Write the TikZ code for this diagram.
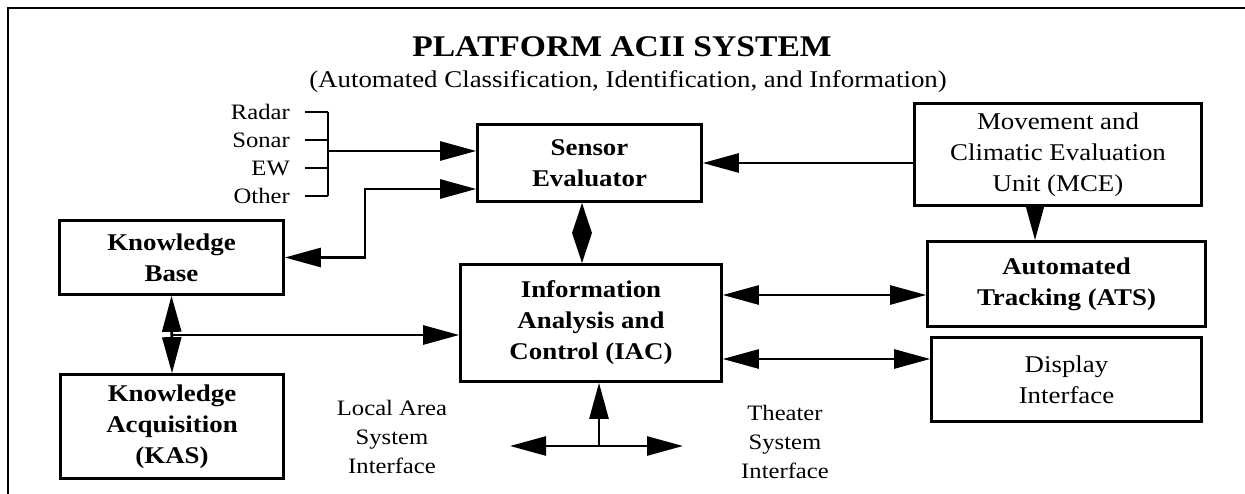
\documentclass[tikz,border=0pt]{standalone}
\usepackage{fontspec}
\setmainfont{Liberation Serif}[FakeStretch=1.12]
\usetikzlibrary{arrows.meta,calc}
\begin{document}
\begin{tikzpicture}[x=1pt,y=-1pt,
  conn/.style={line width=2.6pt},
  blk/.style={draw, line width=2.6pt, align=center, inner sep=0pt, font=\fontsize{24}{31}\selectfont\bfseries},
  rblk/.style={blk, font=\fontsize{24}{31}\selectfont},
  lbl/.style={align=center, inner sep=0pt, font=\fontsize{22}{29}\selectfont},
  arr/.style={conn, -{Triangle[length=36pt,width=19pt]}},
  darr/.style={conn, {Triangle[length=36pt,width=19pt]}-{Triangle[length=36pt,width=19pt]}},
  sdarr/.style={conn, {Triangle[length=30pt,width=19pt]}-{Triangle[length=30pt,width=19pt]}}
]
\useasboundingbox (0,0) rectangle (1245,494);
% frame
\draw[line width=2.5pt] (8,494) -- (8,8) -- (1245,8);

% titles
\node[font=\fontsize{30}{36}\selectfont\bfseries, anchor=base, inner sep=0pt] (title) at (622,57) {PLATFORM ACII SYSTEM};
\node[font=\fontsize{24}{29}\selectfont, anchor=base, inner sep=0pt] (sub) at (628,88) {(Automated Classification, Identification, and Information)};

% boxes
\node[blk, minimum width=224pt, minimum height=77pt] (se) at (589.5,163) {Sensor\\Evaluator};
\node[blk, minimum width=261pt, minimum height=117pt] (iac) at (591,323) {Information\\Analysis and\\Control (IAC)};
\node[blk, minimum width=224pt, minimum height=74pt] (kb) at (171.5,257.5) {Knowledge\\Base};
\node[blk, minimum width=223pt, minimum height=104pt] (kas) at (172,426.5) {Knowledge\\Acquisition\\(KAS)};
\node[rblk, minimum width=287pt, minimum height=102pt] (mce) at (1058,154.5) {Movement and\\Climatic Evaluation\\Unit (MCE)};
\node[blk, minimum width=278pt, minimum height=85pt] (ats) at (1066.5,284) {Automated\\Tracking (ATS)};
\node[rblk, minimum width=270pt, minimum height=84pt] (disp) at (1066.5,379.5) {Display\\Interface};

% sensor inputs
\node[lbl, anchor=east] (radar) at (290,112) {Radar};
\node[lbl, anchor=east] (sonar) at (290,140) {Sonar};
\node[lbl, anchor=east] (ew) at (290,168) {EW};
\node[lbl, anchor=east] (other) at (290,196) {Other};
\coordinate (bartop) at (328,112);
\coordinate (barbot) at (328,196);
\coordinate (bus) at (328,151);
\draw[conn] (bartop) -- (barbot);
\foreach \s in {radar,sonar,ew,other}
  \draw[conn] ([xshift=15pt]\s.east) -- (\s.east -| bartop);
\draw[arr] (bus) -- (bus -| se.west);

% knowledge base <-> sensor evaluator
\coordinate (kbse) at (365,189);
\draw[darr] (kb.east) -| (kbse) -- (kbse -| se.west);

% MCE -> sensor evaluator
\draw[arr] (mce.west |- se.east) -- (se.east);

% sensor evaluator <-> IAC
\draw[sdarr] ([xshift=-7.5pt]se.south) -- ([xshift=-7.5pt]se.south |- iac.north);

% MCE -> ATS
\draw[arr] ([xshift=-23pt]mce.south) -- ([xshift=-23pt]mce.south |- ats.north);

% IAC <-> ATS, Display
\draw[darr] (iac.east |- 0,295) -- (ats.west |- 0,295);
\draw[darr] (iac.east |- 0,359) -- (disp.west |- 0,359);

% KB <-> KAS, and to IAC
\draw[darr] (kb.south) -- (kas.north);
\draw[arr] (kb.south |- 0,335) -- (iac.west |- 0,335);

% bottom interfaces
\coordinate (lanend) at (510,446);
\coordinate (tsiend) at (683,446);
\coordinate (junc) at (599,446);
\draw[darr] (lanend) -- (tsiend);
\draw[arr] (junc) -- (junc |- iac.south);

\node[lbl] (lan) at (392,437) {Local Area\\System\\Interface};
\node[lbl] (tsi) at (785,442) {Theater\\System\\Interface};
\end{tikzpicture}
\end{document}
